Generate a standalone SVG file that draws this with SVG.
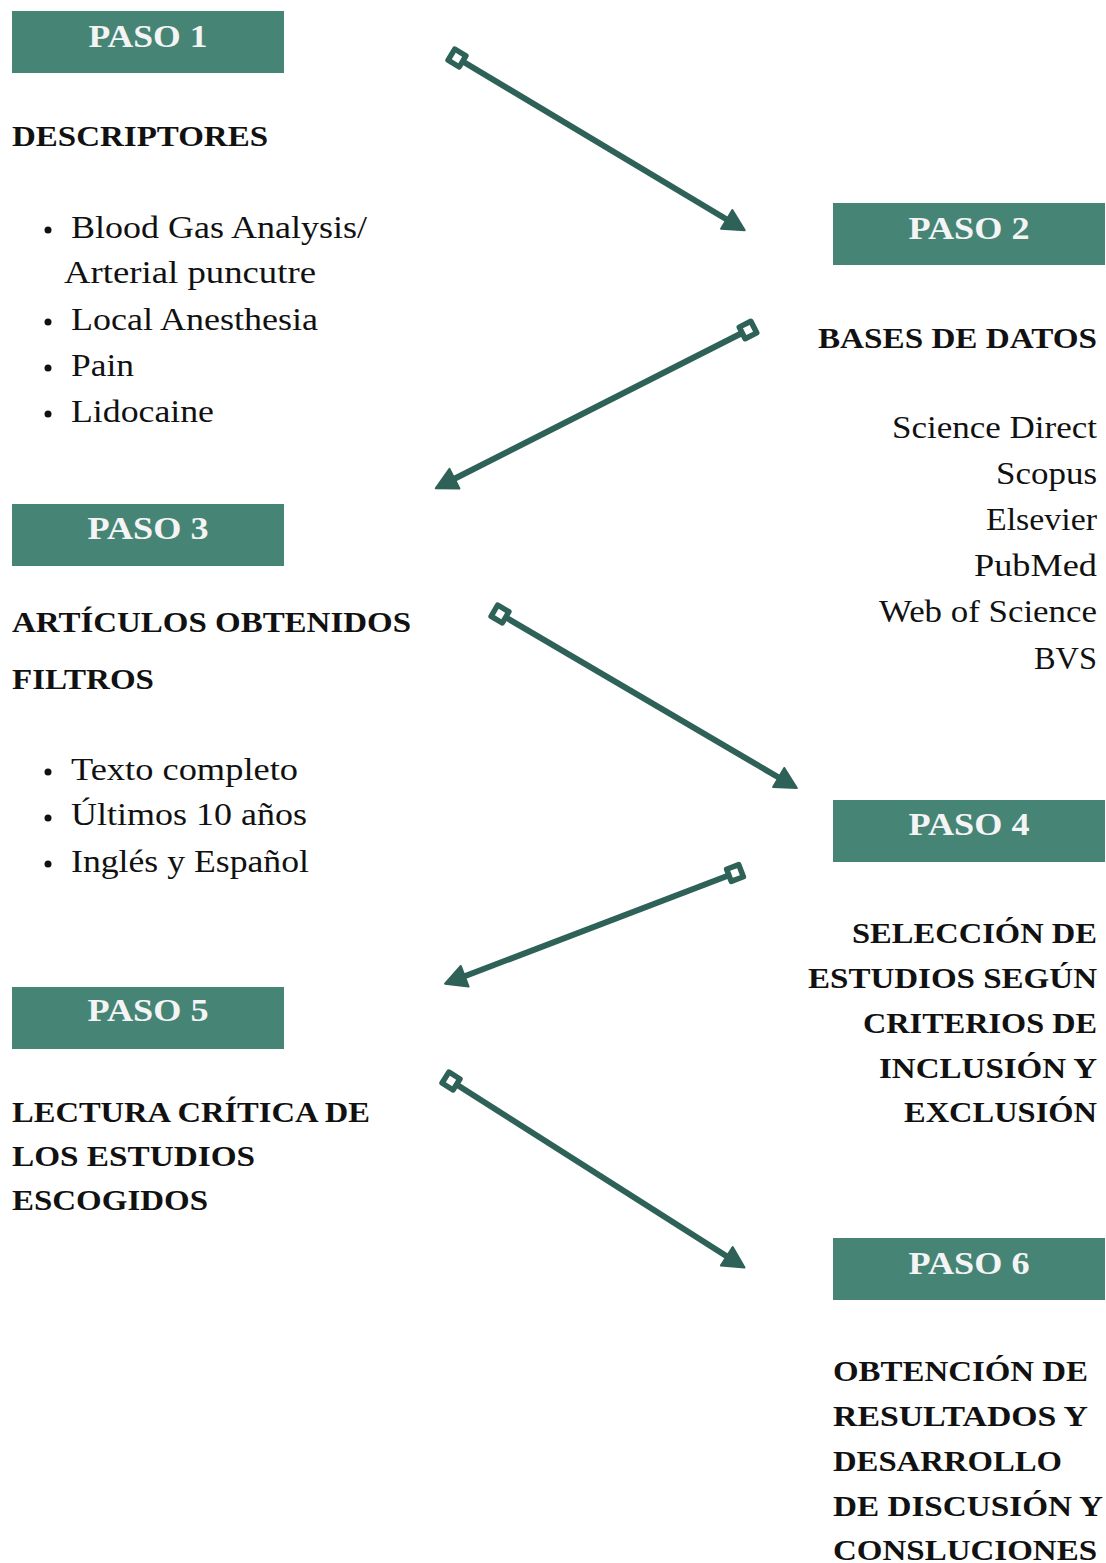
<svg xmlns="http://www.w3.org/2000/svg" width="1106" height="1563" viewBox="0 0 1106 1563">
<style>
.box{fill:#468476}
.lbl{font-weight:bold;font-size:32px;fill:#f4f4f4;text-anchor:middle}
.hd{font-weight:bold;font-size:29px;fill:#111}
.tx{font-size:31px;fill:#111}
.r{text-anchor:end}
.conn{stroke:#2e6157;stroke-width:6;fill:none;marker-start:url(#sq);marker-end:url(#ah)}
.dot{fill:#111}
</style>
<defs>
<marker id="sq" markerWidth="30" markerHeight="30" refX="15" refY="15" orient="auto" markerUnits="userSpaceOnUse">
<rect x="8.5" y="8.5" width="13" height="13" fill="#fff" stroke="#2e6157" stroke-width="5.5" stroke-linejoin="round"/>
</marker>
<marker id="ah" markerWidth="30" markerHeight="30" refX="8" refY="15" orient="auto" markerUnits="userSpaceOnUse">
<path d="M3,4 L24,15 L3,26 Z" fill="#2e6157" stroke="#2e6157" stroke-width="2" stroke-linejoin="round"/>
</marker>
</defs>
<rect width="1106" height="1563" fill="#fff"/>
<g font-family="Liberation Serif, Tinos, Times New Roman, Times, serif">
<g id="paso1">
<rect class="box" x="12" y="11" width="272" height="62"/>
<text class="lbl" x="148" y="47" textLength="119" lengthAdjust="spacingAndGlyphs">PASO 1</text>
<text class="hd" x="12" y="146" textLength="256" lengthAdjust="spacingAndGlyphs">DESCRIPTORES</text>
<circle class="dot" cx="48" cy="230" r="3.5"/>
<text class="tx" x="71" y="238" textLength="296" lengthAdjust="spacingAndGlyphs">Blood Gas Analysis/</text>
<text class="tx" x="64" y="283" textLength="252" lengthAdjust="spacingAndGlyphs">Arterial puncutre</text>
<circle class="dot" cx="48" cy="322" r="3.5"/>
<text class="tx" x="71" y="330" textLength="247" lengthAdjust="spacingAndGlyphs">Local Anesthesia</text>
<circle class="dot" cx="48" cy="368" r="3.5"/>
<text class="tx" x="71" y="376" textLength="63" lengthAdjust="spacingAndGlyphs">Pain</text>
<circle class="dot" cx="48" cy="414" r="3.5"/>
<text class="tx" x="71" y="422" textLength="143" lengthAdjust="spacingAndGlyphs">Lidocaine</text>
</g>

<g id="paso2">
<rect class="box" x="833" y="203" width="272" height="62"/>
<text class="lbl" x="969" y="239" textLength="121" lengthAdjust="spacingAndGlyphs">PASO 2</text>
<text class="hd r" x="1097" y="348" textLength="279" lengthAdjust="spacingAndGlyphs">BASES DE DATOS</text>
<text class="tx r" x="1097" y="438" textLength="205" lengthAdjust="spacingAndGlyphs">Science Direct</text>
<text class="tx r" x="1097" y="484" textLength="101" lengthAdjust="spacingAndGlyphs">Scopus</text>
<text class="tx r" x="1097" y="530" textLength="111" lengthAdjust="spacingAndGlyphs">Elsevier</text>
<text class="tx r" x="1097" y="576" textLength="123" lengthAdjust="spacingAndGlyphs">PubMed</text>
<text class="tx r" x="1097" y="622" textLength="218" lengthAdjust="spacingAndGlyphs">Web of Science</text>
<text class="tx r" x="1097" y="669" textLength="63" lengthAdjust="spacingAndGlyphs">BVS</text>
</g>

<g id="paso3">
<rect class="box" x="12" y="504" width="272" height="62"/>
<text class="lbl" x="148" y="539" textLength="121" lengthAdjust="spacingAndGlyphs">PASO 3</text>
<text class="hd" x="12" y="632" textLength="399" lengthAdjust="spacingAndGlyphs">ARTÍCULOS OBTENIDOS</text>
<text class="hd" x="12" y="689" textLength="142" lengthAdjust="spacingAndGlyphs">FILTROS</text>
<circle class="dot" cx="48" cy="772" r="3.5"/>
<text class="tx" x="71" y="780" textLength="227" lengthAdjust="spacingAndGlyphs">Texto completo</text>
<circle class="dot" cx="48" cy="818" r="3.5"/>
<text class="tx" x="71" y="825" textLength="236" lengthAdjust="spacingAndGlyphs">Últimos 10 años</text>
<circle class="dot" cx="48" cy="864" r="3.5"/>
<text class="tx" x="71" y="872" textLength="238" lengthAdjust="spacingAndGlyphs">Inglés y Español</text>
</g>

<g id="paso4">
<rect class="box" x="833" y="800" width="272" height="62"/>
<text class="lbl" x="969" y="835" textLength="121" lengthAdjust="spacingAndGlyphs">PASO 4</text>
<text class="hd r" x="1097" y="943" textLength="245" lengthAdjust="spacingAndGlyphs">SELECCIÓN DE</text>
<text class="hd r" x="1097" y="988" textLength="289" lengthAdjust="spacingAndGlyphs">ESTUDIOS SEGÚN</text>
<text class="hd r" x="1097" y="1033" textLength="234" lengthAdjust="spacingAndGlyphs">CRITERIOS DE</text>
<text class="hd r" x="1097" y="1078" textLength="218" lengthAdjust="spacingAndGlyphs">INCLUSIÓN Y</text>
<text class="hd r" x="1097" y="1122" textLength="193" lengthAdjust="spacingAndGlyphs">EXCLUSIÓN</text>
</g>

<g id="paso5">
<rect class="box" x="12" y="987" width="272" height="62"/>
<text class="lbl" x="148" y="1021" textLength="121" lengthAdjust="spacingAndGlyphs">PASO 5</text>
<text class="hd" x="12" y="1122" textLength="358" lengthAdjust="spacingAndGlyphs">LECTURA CRÍTICA DE</text>
<text class="hd" x="12" y="1166" textLength="243" lengthAdjust="spacingAndGlyphs">LOS ESTUDIOS</text>
<text class="hd" x="12" y="1210" textLength="196" lengthAdjust="spacingAndGlyphs">ESCOGIDOS</text>
</g>

<g id="paso6">
<rect class="box" x="833" y="1238" width="272" height="62"/>
<text class="lbl" x="969" y="1274" textLength="121" lengthAdjust="spacingAndGlyphs">PASO 6</text>
<text class="hd" x="833" y="1381" textLength="255" lengthAdjust="spacingAndGlyphs">OBTENCIÓN DE</text>
<text class="hd" x="833" y="1426" textLength="255" lengthAdjust="spacingAndGlyphs">RESULTADOS Y</text>
<text class="hd" x="833" y="1471" textLength="229" lengthAdjust="spacingAndGlyphs">DESARROLLO</text>
<text class="hd" x="833" y="1516" textLength="270" lengthAdjust="spacingAndGlyphs">DE DISCUSIÓN Y</text>
<text class="hd" x="833" y="1560" textLength="264" lengthAdjust="spacingAndGlyphs">CONSLUCIONES</text>
</g>
</g>
<g id="connectors">
<path class="conn" d="M457,58 L731,222"/>
<path class="conn" d="M748,330 L450,481"/>
<path class="conn" d="M500,614 L783,780"/>
<path class="conn" d="M735,873 L460,978"/>
<path class="conn" d="M451,1081 L731,1259"/>
</g>
</svg>
